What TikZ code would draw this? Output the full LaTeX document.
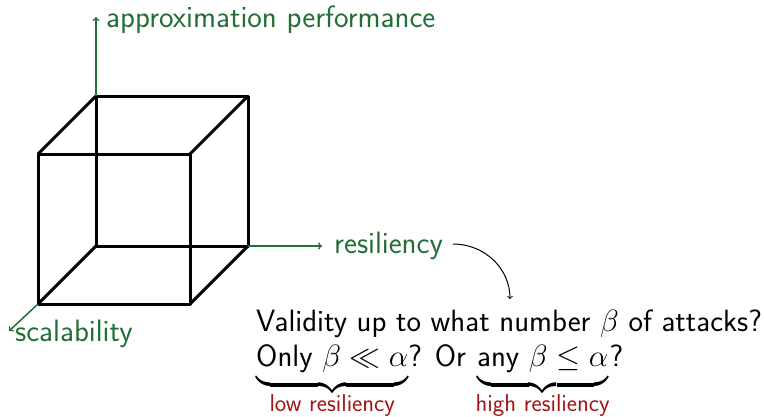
\RequirePackage{fix-cm}
\documentclass[tikz,border=0pt]{standalone}
\usepackage{amsmath,amssymb}
\usetikzlibrary{decorations.pathreplacing}
\renewcommand{\familydefault}{\sfdefault}
\definecolor{axgreen}{RGB}{35,110,55}
\definecolor{lblred}{RGB}{160,20,20}
\newcommand{\redlbl}[1]{\text{\fontsize{24.4}{28}\selectfont\color{lblred}#1}}
\newcommand{\dstrut}{\rule[-14pt]{0pt}{14pt}}
\begin{document}
\begin{tikzpicture}[x=1pt,y=-1pt,
  cubeedge/.style={line width=3pt,line join=round},
  axis/.style={axgreen,line width=1.5pt,->,>=to},
  axlabel/.style={axgreen,font=\fontsize{30.9}{36}\selectfont,inner sep=0pt,anchor=base west},
  maintext/.style={font=\fontsize{30.8}{36}\selectfont,inner sep=0pt,anchor=base west}]
\useasboundingbox (0,0) rectangle (764,416);
% cube
\coordinate (A) at (38,154); \coordinate (B) at (190,154);
\coordinate (C) at (190,304); \coordinate (D) at (38,304);
\coordinate (E) at (96,96); \coordinate (F) at (248,96);
\coordinate (G) at (248,246); \coordinate (H) at (96,246);
\draw[cubeedge] (A) -- (B) -- (C) -- (D) -- cycle;
\draw[cubeedge] (E) -- (F) -- (G) -- (H) -- cycle;
\draw[cubeedge] (A) -- (E) (B) -- (F) (C) -- (G) (D) -- (H);
% axes
\coordinate (Vtip) at (96,17);
\coordinate (Rtip) at (322,246);
\coordinate (Stip) at (9,331);
\draw[axis] (E) -- (Vtip);
\draw[axis] (G) -- (Rtip);
\draw[axis] (D) -- (Stip);
\node[axlabel] (perf) at (106,27) {approximation performance};
\node[axlabel] (resil) at (334,253) {resiliency};
\node[axlabel] (scal) at (15,341) {scalability};
% question
\node[maintext] (q1) at (256,331) {Validity up to what number $\beta$ of attacks?};
\node[maintext] (q2) at (256,366) {$\underbrace{\text{Only }\beta\ll\alpha\dstrut}_{\redlbl{low resiliency}}$? Or $\underbrace{\text{any }\beta\leq\alpha\dstrut}_{\redlbl{high resiliency}}$?};
\coordinate (cstart) at (453,244);
\coordinate (ctop) at (510,299);
\draw[->,>=to,line width=1pt] (cstart) to[out=0,in=90] (ctop);
\end{tikzpicture}
\end{document}
